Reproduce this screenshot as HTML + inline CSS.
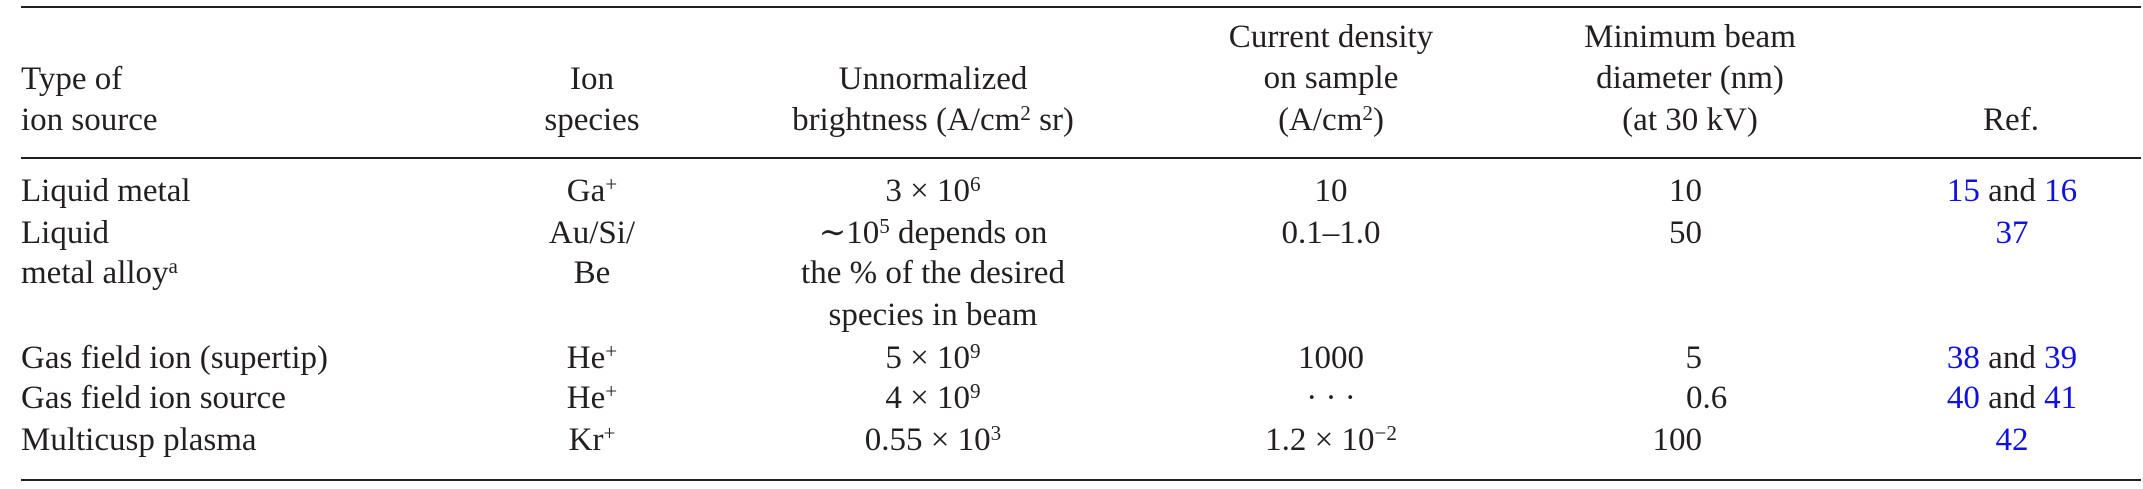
<!DOCTYPE html>
<html><head><meta charset="utf-8"><style>
html,body{margin:0;padding:0;background:#fff;}
#c{position:relative;width:2143px;height:489px;overflow:hidden;font-family:"Liberation Serif","DejaVu Serif",serif;font-size:33px;color:#231f20;}
.r{position:absolute;left:21px;width:2120px;height:2px;background:#231f20;}
.t{position:absolute;line-height:33px;white-space:nowrap;}
.c{transform:translateX(-50%);}
.rt{transform:translateX(-100%);}
sup{font-size:0.64em;position:relative;top:-0.48em;vertical-align:baseline;line-height:0;}
.b{color:#1010e0;}
</style></head><body><div id="c">
<div class="r" style="top:6px"></div>
<div class="r" style="top:157px"></div>
<div class="r" style="top:479px"></div>

<div class="t" style="left:21px;top:63px">Type of</div>
<div class="t" style="left:21px;top:104px">ion source</div>
<div class="t c" style="left:592px;top:63px">Ion</div>
<div class="t c" style="left:592px;top:104px">species</div>
<div class="t c" style="left:933px;top:63px">Unnormalized</div>
<div class="t c" style="left:933px;top:104px">brightness (A/cm<sup>2</sup> sr)</div>
<div class="t c" style="left:1331px;top:21px">Current density</div>
<div class="t c" style="left:1331px;top:62px">on sample</div>
<div class="t c" style="left:1331px;top:104px">(A/cm<sup>2</sup>)</div>
<div class="t c" style="left:1690px;top:21px">Minimum beam</div>
<div class="t c" style="left:1690px;top:62px">diameter (nm)</div>
<div class="t c" style="left:1690px;top:104px">(at 30 kV)</div>
<div class="t c" style="left:2011px;top:104px">Ref.</div>

<div class="t" style="left:21px;top:175px">Liquid metal</div>
<div class="t" style="left:21px;top:217px">Liquid</div>
<div class="t" style="left:21px;top:257px">metal alloy<sup>a</sup></div>
<div class="t" style="left:21px;top:342px">Gas field ion (supertip)</div>
<div class="t" style="left:21px;top:382px">Gas field ion source</div>
<div class="t" style="left:21px;top:424px">Multicusp plasma</div>

<div class="t c" style="left:592px;top:175px">Ga<sup>+</sup></div>
<div class="t c" style="left:592px;top:217px">Au/Si/</div>
<div class="t c" style="left:592px;top:257px">Be</div>
<div class="t c" style="left:592px;top:342px">He<sup>+</sup></div>
<div class="t c" style="left:592px;top:382px">He<sup>+</sup></div>
<div class="t c" style="left:592px;top:424px">Kr<sup>+</sup></div>

<div class="t c" style="left:933px;top:175px">3 × 10<sup>6</sup></div>
<div class="t c" style="left:933px;top:217px">∼10<sup>5</sup> depends on</div>
<div class="t c" style="left:933px;top:257px">the % of the desired</div>
<div class="t c" style="left:933px;top:299px">species in beam</div>
<div class="t c" style="left:933px;top:342px">5 × 10<sup>9</sup></div>
<div class="t c" style="left:933px;top:382px">4 × 10<sup>9</sup></div>
<div class="t c" style="left:933px;top:424px">0.55 × 10<sup>3</sup></div>

<div class="t c" style="left:1331px;top:175px">10</div>
<div class="t c" style="left:1331px;top:217px">0.1–1.0</div>
<div class="t c" style="left:1331px;top:342px">1000</div>
<div class="t c" style="left:1331px;top:382px">· · ·</div>
<div class="t c" style="left:1331px;top:424px">1.2 × 10<sup>−2</sup></div>

<div class="t rt" style="left:1702px;top:175px">10</div>
<div class="t rt" style="left:1702px;top:217px">50</div>
<div class="t rt" style="left:1702px;top:342px">5</div>
<div class="t" style="left:1686px;top:382px">0.6</div>
<div class="t rt" style="left:1702px;top:424px">100</div>

<div class="t c" style="left:2012px;top:175px"><span class="b">15</span> and <span class="b">16</span></div>
<div class="t c b" style="left:2012px;top:217px">37</div>
<div class="t c" style="left:2012px;top:342px"><span class="b">38</span> and <span class="b">39</span></div>
<div class="t c" style="left:2012px;top:382px"><span class="b">40</span> and <span class="b">41</span></div>
<div class="t c b" style="left:2012px;top:424px">42</div>
</div></body></html>
